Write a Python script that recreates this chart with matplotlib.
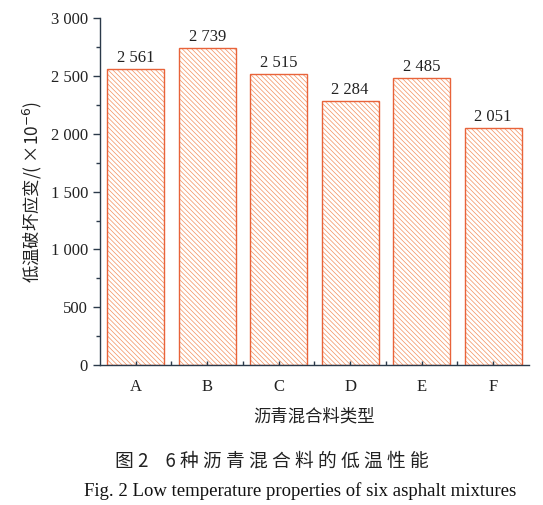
import numpy as np
import matplotlib.pyplot as plt
from matplotlib.ticker import MultipleLocator, FuncFormatter

# data
categories = ["A", "B", "C", "D", "E", "F"]
strain = [2561, 2739, 2515, 2284, 2485, 2051]

SERIF = ["Liberation Serif", "DejaVu Serif"]
CJK = ["Noto Sans CJK SC", "DejaVu Sans"]
EDGE = "#e8633a"

plt.rcParams["hatch.linewidth"] = 0.5


def spaced(v, pos=None):
    # thousands separated by a space, as in the original
    return "{:,}".format(int(v)).replace(",", " ")


fig = plt.figure(figsize=(5.43, 5.05), dpi=100)
ax = fig.add_axes([0.184, 0.277, 0.79, 0.687])

x = np.arange(len(categories))
# hatch drawn first in light orange, outline drawn on top
ax.bar(x, strain, width=0.8, facecolor="white", edgecolor="#f3905e",
       linewidth=0, hatch="\\" * 7)
ax.bar(x, strain, width=0.8, facecolor="none", edgecolor=EDGE, linewidth=1.0)

for xi, v in zip(x, strain):
    ax.text(xi, v + 25, spaced(v), ha="center", va="bottom",
            fontsize=12, family=SERIF, color="#222222")

ax.set_xlim(-0.5, len(categories) - 0.5)
ax.set_ylim(0, 3000)
ax.yaxis.set_major_locator(MultipleLocator(500))
ax.yaxis.set_minor_locator(MultipleLocator(250))
ax.yaxis.set_major_formatter(FuncFormatter(spaced))
ax.set_xticks(x)
ax.set_xticklabels(categories)
ax.set_xticks(x[:-1] + 0.5, minor=True)

for s in ["top", "right"]:
    ax.spines[s].set_visible(False)
for s in ["left", "bottom"]:
    ax.spines[s].set_color("#2b3a4a")
    ax.spines[s].set_linewidth(1.0)

ax.tick_params(axis="y", which="major", direction="out", length=5, width=1,
               labelsize=12, colors="#2b3a4a", labelcolor="#222222")
ax.tick_params(axis="y", which="minor", direction="out", length=3, width=1,
               colors="#2b3a4a")
ax.tick_params(axis="x", which="both", direction="in", length=3, width=1,
               labelsize=12, colors="#2b3a4a", labelcolor="#222222", pad=10)
for lab in ax.get_xticklabels() + ax.get_yticklabels():
    lab.set_family(SERIF)

ax.set_ylabel("低温破坏应变/( ×10$^{-6}$)", family=CJK, fontsize=12.5,
              color="#222222", labelpad=5)
ax.set_xlabel("沥青混合料类型", family=CJK, fontsize=12.5, color="#222222",
              labelpad=9)

fig.text(0.50, 0.088, "图 2    6 种 沥 青 混 合 料 的 低 温 性 能", ha="center",
         va="center", family=CJK, fontsize=13.5, color="#222222")
fig.text(0.553, 0.027, "Fig. 2 Low temperature properties of six asphalt mixtures",
         ha="center", va="center", family=SERIF, fontsize=13.5, color="#111111")

fig.savefig("out.png", dpi=100)
